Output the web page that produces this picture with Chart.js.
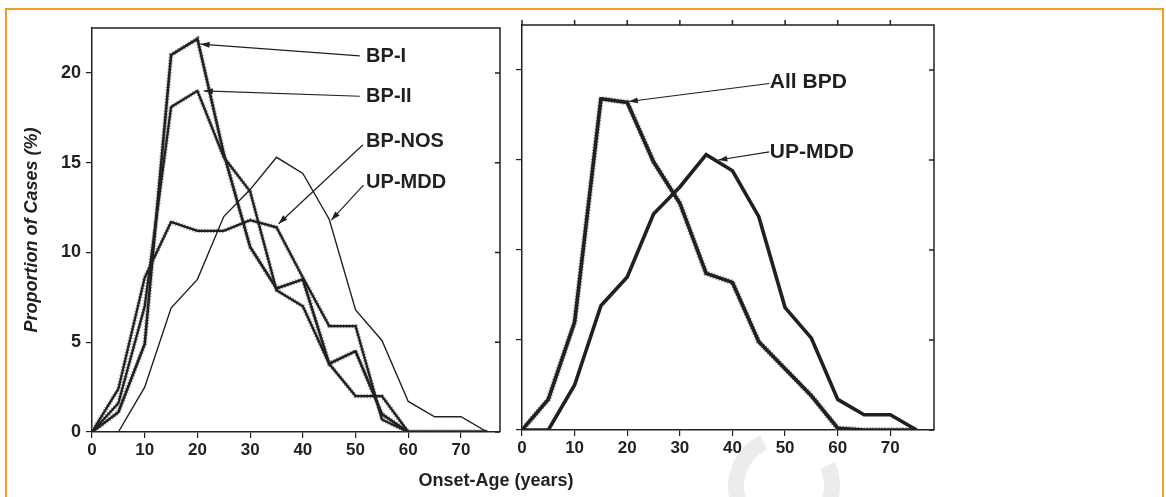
<!DOCTYPE html>
<html lang="en">
<head>
<meta charset="UTF-8">
<title>Onset-Age distribution</title>
<script src="https://cdn.jsdelivr.net/npm/chart.js@4.4.0/dist/chart.umd.min.js"></script>
<style>
  * { margin: 0; padding: 0; box-sizing: border-box; }
  body {
    width: 1166px; height: 497px; overflow: hidden; position: relative;
    background: #fff; font-family: "Liberation Sans", Arial, sans-serif;
  }
  .frame {
    position: absolute; left: 5px; top: 8px; width: 1159px; height: 530px;
    border: 2px solid #f0a020;
  }
  .mark {
    position: absolute; left: 728px; top: 430px; width: 112px; height: 112px;
    border: 16px solid #ececec; border-top-color: transparent; border-radius: 50%;
    transform: rotate(20deg);
  }
  canvas { position: absolute; top: 0; }
  #left { left: 0; }
  #right { left: 510px; }
  .xtitle {
    position: absolute; left: 346px; width: 300px; top: 470px;
    text-align: center; font-weight: bold; font-size: 18px; color: #231f20;
  }
</style>
</head>
<body>
<div class="frame"></div>
<div class="mark"></div>
<canvas id="left" width="510" height="497"></canvas>
<canvas id="right" width="440" height="497"></canvas>
<div class="xtitle">Onset-Age (years)</div>

<script>
// onset age bins (years)
const ages   = [0, 5, 10, 15, 20, 25, 30, 35, 40, 45, 50, 55, 60, 65, 70, 75];
// proportion of cases (%)
const bpI    = [0, 1.1, 4.9, 21.0, 21.9, 15.5, 10.3, 8.0, 8.5, 3.8, 4.5, 1.0, 0, 0, 0, 0];
const bpII   = [0, 1.6, 7.0, 18.1, 19.0, 15.3, 13.4, 7.9, 7.0, 3.8, 2.0, 2.0, 0, 0, 0, 0];
const bpNOS  = [0, 2.4, 8.6, 11.7, 11.2, 11.2, 11.8, 11.4, 8.6, 5.9, 5.9, 0.7, 0, 0, 0, 0];
const upMDD  = [0, 0, 2.5, 6.9, 8.5, 12.0, 13.5, 15.3, 14.4, 11.85, 6.8, 5.1, 1.7, 0.85, 0.85, 0];
const allBPD = [0, 1.7, 6.0, 18.4, 18.2, 14.9, 12.6, 8.7, 8.2, 4.9, 3.4, 1.9, 0.1, 0, 0, 0];

const yTicks = [0, 5, 10, 15, 20];

const INK = '#231f20';
const FONT = '"Liberation Sans", Arial, sans-serif';

const pts = vals => ages.map((a, i) => ({ x: a, y: vals[i] }));

function hatched(vals, width) {
    return [
        { data: pts(vals), borderColor: INK, borderWidth: width, order: 1 },
        { data: pts(vals), borderColor: '#9b9b9b', borderWidth: width + 2, borderDash: [1.5, 1.5], order: 2 }
    ];
}

// frame, inward ticks on the right, optional top ticks, labels with arrows
const boxPlugin = {
    id: 'box',
    afterDraw(chart, args, o) {
        const { ctx, chartArea: a, scales: { x, y } } = chart;
        ctx.save();
        ctx.strokeStyle = INK;
        ctx.lineWidth = 1.5;
        ctx.beginPath();
        ctx.moveTo(a.left, a.top);
        ctx.lineTo(a.right, a.top);
        ctx.lineTo(a.right, a.bottom);
        yTicks.forEach(v => {
            const py = y.getPixelForValue(v);
            ctx.moveTo(a.right, py);
            ctx.lineTo(a.right - 5, py);
        });
        if (o.topTicks) {
            x.ticks.forEach(t => {
                const px = x.getPixelForValue(t.value);
                ctx.moveTo(px, a.top);
                ctx.lineTo(px, a.top - 5);
            });
        }
        ctx.stroke();

        ctx.fillStyle = INK;
        ctx.font = `bold ${o.size}px ${FONT}`;
        ctx.textBaseline = 'middle';
        ctx.textAlign = 'left';
        o.notes.forEach(n => {
            ctx.fillText(n.text, x.getPixelForValue(n.at[0]), y.getPixelForValue(n.at[1]));
            const x0 = x.getPixelForValue(n.from[0]), y0 = y.getPixelForValue(n.from[1]);
            const x1 = x.getPixelForValue(n.to[0]), y1 = y.getPixelForValue(n.to[1]);
            ctx.lineWidth = 1.2;
            ctx.beginPath();
            ctx.moveTo(x0, y0);
            ctx.lineTo(x1, y1);
            ctx.stroke();
            const ang = Math.atan2(y1 - y0, x1 - x0);
            ctx.beginPath();
            ctx.moveTo(x1, y1);
            ctx.lineTo(x1 - 9 * Math.cos(ang) + 3 * Math.sin(ang), y1 - 9 * Math.sin(ang) - 3 * Math.cos(ang));
            ctx.lineTo(x1 - 9 * Math.cos(ang) - 3 * Math.sin(ang), y1 - 9 * Math.sin(ang) + 3 * Math.cos(ang));
            ctx.closePath();
            ctx.fill();
        });
        ctx.restore();
    }
};

function panel(id, datasets, cfg) {
    return new Chart(document.getElementById(id), {
        type: 'line',
        data: { datasets },
        plugins: [boxPlugin],
        options: {
            responsive: false,
            animation: false,
            layout: { padding: { top: cfg.top, right: cfg.right, left: 0, bottom: 0 } },
            elements: { point: { radius: 0 }, line: { tension: 0, fill: false, borderJoinStyle: 'miter' } },
            plugins: {
                legend: { display: false },
                tooltip: { enabled: false },
                box: { notes: cfg.notes, size: cfg.size, topTicks: cfg.topTicks }
            },
            scales: {
                x: {
                    type: 'linear', min: 0, max: cfg.xMax,
                    afterFit: s => { s.height = cfg.xHeight; },
                    border: { color: INK, width: 1.5 },
                    grid: { drawOnChartArea: false, tickLength: 6, color: INK, lineWidth: 1.2 },
                    ticks: { stepSize: 10, includeBounds: false, color: INK, padding: 2,
                             font: { family: FONT, size: 17, weight: 'bold' } }
                },
                y: {
                    min: 0, max: 22.5,
                    afterFit: s => { s.width = cfg.yWidth; },
                    afterBuildTicks: s => { s.ticks = yTicks.map(v => ({ value: v })); },
                    border: { color: INK, width: 1.5 },
                    grid: { drawOnChartArea: false, tickLength: 6, color: INK, lineWidth: 1.2 },
                    ticks: { display: cfg.yLabels, color: INK, padding: 5,
                             font: { family: FONT, size: 18, weight: 'bold' } },
                    title: { display: cfg.yLabels, text: 'Proportion of Cases (%)', color: INK,
                             padding: { top: 21, bottom: 0 },
                             font: { family: FONT, size: 18, weight: 'bold', style: 'italic' } }
                }
            }
        }
    });
}

panel('left', [
    ...hatched(bpI, 2.6),
    ...hatched(bpII, 2.3),
    ...hatched(bpNOS, 2.3),
    { data: pts(upMDD), borderColor: INK, borderWidth: 1.4, order: 0 }
], {
    top: 28, right: 10, xMax: 77.4, xHeight: 65, yWidth: 92, yLabels: true, size: 20, topTicks: false,
    notes: [
        { text: 'BP-I',   at: [52.0, 20.9], from: [50.8, 20.95], to: [20.6, 21.6] },
        { text: 'BP-II',  at: [52.0, 18.7], from: [50.8, 18.7],  to: [21.2, 19.0] },
        { text: 'BP-NOS', at: [52.0, 16.2], from: [51.4, 16.0],  to: [35.4, 11.6] },
        { text: 'UP-MDD', at: [52.0, 13.9], from: [51.5, 13.75], to: [45.4, 11.8] }
    ]
});

panel('right', [
    ...hatched(allBPD, 3.6),
    { data: pts(upMDD), borderColor: INK, borderWidth: 3.6, order: 0 }
], {
    top: 25, right: 16, xMax: 78.3, xHeight: 67, yWidth: 12, yLabels: false, size: 21, topTicks: true,
    notes: [
        { text: 'All BPD', at: [47.1, 19.3], from: [47.0, 19.25], to: [20.3, 18.25] },
        { text: 'UP-MDD',  at: [47.1, 15.45], from: [47.0, 15.45], to: [37.3, 15.0] }
    ]
});
</script>
</body>
</html>
